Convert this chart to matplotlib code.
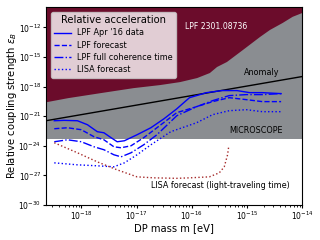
import numpy as np
import matplotlib.pyplot as plt

# values, in log10 units
log_m = [-18.49, -18.31, -18.07, -17.89, -17.71, -17.59, -17.46, -17.35, -17.22,
         -16.99, -16.74, -16.50, -16.27, -16.04, -15.73, -15.45, -15.18, -14.95,
         -14.72, -14.38]
log_eps_data = [-21.46, -21.42, -21.46, -21.86, -22.57, -22.68, -23.18, -23.59, -23.49,
                -22.88, -22.17, -21.25, -20.25, -19.12, -18.61, -18.40, -18.40, -18.61,
                -18.61, -18.71]

log_m_fc = [-18.49, -18.25, -18.00, -17.77, -17.59, -17.41, -17.28, -17.10, -16.87,
            -16.63, -16.27, -15.91, -15.62, -15.32, -15.01, -14.72, -14.38]
log_eps_forecast = [-22.27, -22.17, -22.37, -23.08, -23.39, -24.10, -24.20, -24.00, -23.18,
                    -22.17, -20.64, -20.03, -19.52, -19.12, -19.32, -19.52, -19.52]
log_eps_coherence = [-23.59, -23.39, -23.59, -24.10, -24.40, -24.91, -25.12, -24.71, -23.90,
                     -22.88, -20.95, -20.03, -19.42, -18.91, -18.81, -18.81, -18.71]

log_m_lisa = [-18.49, -18.07, -17.71, -17.41, -17.22, -16.99, -16.74, -16.38, -15.91,
              -15.62, -15.32, -15.01, -14.72, -14.38]
log_eps_lisa = [-25.73, -25.93, -26.03, -26.13, -25.73, -24.91, -23.90, -22.57, -21.66,
                -20.84, -20.44, -20.34, -20.54, -20.54]

log_m_light = [-18.49, -18.07, -17.71, -17.35, -16.99, -16.68, -16.27, -16.04, -15.68,
               -15.50, -15.41, -15.35, -15.33]
log_eps_light = [-23.69, -24.71, -25.63, -26.44, -27.15, -27.25, -27.30, -27.25, -27.15,
                 -26.74, -26.13, -24.91, -24.10]

log_m_lpf23 = [-18.63, -18.25, -17.66, -17.06, -16.58, -16.22, -15.91, -15.68, -15.55,
               -15.37, -15.08, -14.77, -14.59, -14.36, -14.18, -14.00]
log_eps_lpf23 = [-19.52, -19.12, -18.61, -18.10, -17.79, -17.49, -17.08, -16.57, -15.96,
                 -15.45, -14.23, -12.91, -12.20, -11.49, -10.87, -10.47]

microscope_eps = 5e-24
anomaly_m = [2.3e-19, 1e-14]
anomaly_eps = [3.5e-22, 1.05e-17]

xlim = (2.3e-19, 1e-14)
ylim = (1e-30, 1.2e-10)


def p(v):
    return 10.0 ** np.array(v)


fig, ax = plt.subplots(figsize=(3.2, 2.4), dpi=100)
fig.subplots_adjust(left=0.144, right=0.944, bottom=0.146, top=0.971)

# excluded regions
ax.fill_between(xlim, microscope_eps, ylim[1], color='#8a8d91', lw=0, zorder=0)
ax.fill_between(p(log_m_lpf23), p(log_eps_lpf23), ylim[1], color='#6b0c2b', lw=0, zorder=1)

ax.plot(anomaly_m, anomaly_eps, color='black', lw=1.0, zorder=2)

blue = '#0000ff'
ax.plot(p(log_m), p(log_eps_data), color=blue, lw=1.0, ls='-', label="LPF Apr '16 data", zorder=3)
ax.plot(p(log_m_fc), p(log_eps_forecast), color=blue, lw=1.0, ls='--', label='LPF forecast', zorder=3)
ax.plot(p(log_m_fc), p(log_eps_coherence), color=blue, lw=1.0, ls='-.',
        label='LPF full coherence time', zorder=3)
ax.plot(p(log_m_lisa), p(log_eps_lisa), color=blue, lw=1.0, ls=':', label='LISA forecast', zorder=3)
ax.plot(p(log_m_light), p(log_eps_light), color='#a52a2a', lw=1.0, ls=':', zorder=3)

ax.set_xscale('log')
ax.set_yscale('log')
ax.set_xlim(*xlim)
ax.set_ylim(*ylim)
ax.set_yticks([1e-30, 1e-27, 1e-24, 1e-21, 1e-18, 1e-15, 1e-12])
ax.yaxis.set_minor_locator(plt.NullLocator())
ax.set_xticks([1e-18, 1e-17, 1e-16, 1e-15, 1e-14])
ax.tick_params(which='major', labelsize=5.5, length=2.5, pad=1.0)
ax.tick_params(which='minor', length=1.5)

ax.set_xlabel('DP mass m [eV]', fontsize=7.2, labelpad=0.5)
ax.set_ylabel(r'Relative coupling strength $\epsilon_B$', fontsize=7.2)
ax.yaxis.set_label_coords(-0.105, 0.5)

ax.text(0.543, 0.899, 'LPF 2301.08736', transform=ax.transAxes, color='white',
        fontsize=5.6, ha='left', va='center')
ax.text(0.844, 0.667, 'Anomaly', transform=ax.transAxes, fontsize=5.8, ha='center', va='center')
ax.text(0.82, 0.374, 'MICROSCOPE', transform=ax.transAxes, fontsize=5.8, ha='center', va='center')
ax.text(0.68, 0.10, 'LISA forecast (light-traveling time)', transform=ax.transAxes,
        fontsize=5.8, ha='center', va='center')

leg = ax.legend(loc='upper left', title='Relative acceleration', fontsize=5.9,
                title_fontsize=7.2, labelspacing=0.4, borderaxespad=0.6)

fig.savefig('out.png', dpi=100)
